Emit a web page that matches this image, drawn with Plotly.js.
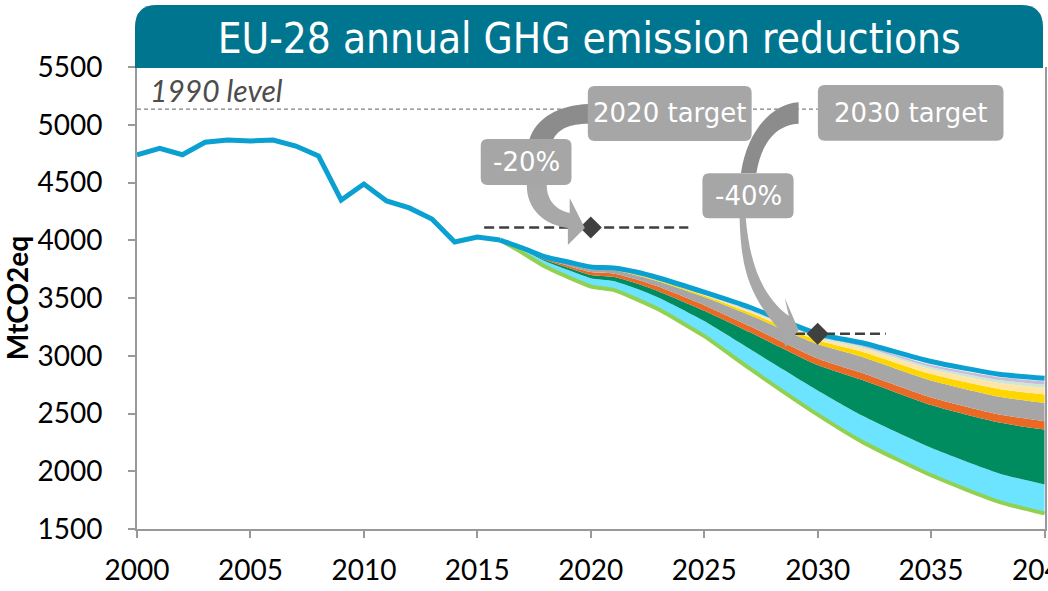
<!DOCTYPE html>
<html>
<head>
<meta charset="utf-8">
<script src="https://cdn.plot.ly/plotly-3.0.1.min.js"></script>
<style>
  html, body { margin: 0; padding: 0; background: #fff; }
  #chart { width: 1048px; height: 591px; }
</style>
</head>
<body>
<div id="chart"></div>
<script>
// historic emissions (MtCO2eq)
const histYears = [2000, 2001, 2002, 2003, 2004, 2005, 2006, 2007, 2008, 2009, 2010, 2011, 2012, 2013, 2014, 2015, 2016];
const histMt = [4740, 4795, 4740, 4848, 4868, 4860, 4868, 4816, 4730, 4348, 4487, 4340, 4280, 4184, 3985, 4028, 4002];

// projections
const projYears = [2016, 2017, 2018, 2019, 2020, 2021, 2022, 2023, 2025, 2027, 2030, 2032, 2035, 2038, 2040];
const baselineMt = [4002, 3933, 3855, 3812, 3768, 3760, 3725, 3673, 3550, 3420, 3190, 3110, 2950, 2840, 2805];
const pathwayMt = [4002, 3890, 3770, 3680, 3600, 3570, 3490, 3400, 3170, 2890, 2490, 2250, 1965, 1735, 1635];

// reduction wedges, stacked on top of the pathway (bottom to top)
const wedgeCyan = [0, 28, 48, 62, 72, 78, 92, 102, 130, 170, 210, 228, 238, 246, 250];
const wedgeDarkGreen = [0, 5, 10, 20, 28, 35, 45, 55, 90, 145, 220, 310, 370, 440, 476];
const wedgeOrange = [0, 3, 10, 18, 25, 30, 35, 40, 48, 52, 56, 60, 65, 70, 72];
const wedgeGrey = [0, 3, 8, 15, 22, 27, 35, 45, 70, 95, 125, 140, 148, 155, 159];
const wedgeYellow = [0, 0, 2, 3, 4, 5, 7, 9, 14, 22, 33, 45, 55, 66, 72];
const wedgeTan = [0, 0, 1, 2, 3, 3, 4, 5, 6, 12, 20, 32, 42, 52, 58];
const wedgeMint = [0, 0, 1, 1, 2, 2, 3, 3, 3, 6, 10, 14, 20, 26, 29];
const wedgeLavender = [0, 0, 1, 1, 2, 2, 2, 3, 3, 5, 8, 12, 18, 24, 28];

// reference level and targets
const level1990 = 5135;
const targetYears = [2020, 2030];
const targetMt = [4110, 3190];
const targetLineFrom = [2015.3, 2029.0];
const targetLineTo = [2024.3, 2033.0];

const xTicks = [2000, 2005, 2010, 2015, 2020, 2025, 2030, 2035, 2040];

const wedges = [
    [wedgeCyan, '#6ce3ff'],
    [wedgeDarkGreen, '#008c5e'],
    [wedgeOrange, '#ea6a25'],
    [wedgeGrey, '#a6a6a6'],
    [wedgeYellow, '#ffd700'],
    [wedgeTan, '#ffe6a6'],
    [wedgeMint, '#cde8d2'],
    [wedgeLavender, '#c9bcdb'],
];

const smooth = {shape: 'spline', smoothing: 0.6};

const traces = [];

traces.push({
    x: projYears, y: pathwayMt, type: 'scatter', mode: 'lines',
    stackgroup: 'cuts', fillcolor: 'rgba(0,0,0,0)',
    line: Object.assign({width: 0, color: 'rgba(0,0,0,0)'}, smooth),
    hoverinfo: 'skip',
});

wedges.forEach(([vals, colour]) => {
    traces.push({
        x: projYears, y: vals, type: 'scatter', mode: 'lines',
        stackgroup: 'cuts', fillcolor: colour,
        line: Object.assign({width: 0, color: colour}, smooth),
        hoverinfo: 'skip',
    });
});

traces.push({
    x: projYears, y: pathwayMt, type: 'scatter', mode: 'lines',
    line: Object.assign({width: 4, color: '#92d050'}, smooth),
});

traces.push({
    x: projYears, y: baselineMt, type: 'scatter', mode: 'lines',
    line: Object.assign({width: 5, color: '#0aa0d2'}, smooth),
});

traces.push({
    x: histYears, y: histMt, type: 'scatter', mode: 'lines',
    line: {width: 5, color: '#0aa0d2'},
});

targetYears.forEach((yr, i) => {
    traces.push({
        x: [targetLineFrom[i], targetLineTo[i]], y: [targetMt[i], targetMt[i]],
        type: 'scatter', mode: 'lines',
        line: {width: 2.5, color: '#404040', dash: '10px,5px'},
    });
});

traces.push({
    x: targetYears, y: targetMt, type: 'scatter', mode: 'markers',
    marker: {symbol: 'diamond', size: 17, color: '#404040'},
});

// label boxes for the targets
const labelBoxes = [
    {text: '2020 target', x0: 2019.87, x1: 2027.09, y0: 4860, y1: 5335},
    {text: '-20%', x0: 2015.15, x1: 2019.15, y0: 4478, y1: 4877},
    {text: '2030 target', x0: 2030.01, x1: 2038.19, y0: 4862, y1: 5344},
    {text: '-40%', x0: 2024.92, x1: 2028.94, y0: 4190, y1: 4580},
];

function roundedBox(b) {
    const rx = 0.3, ry = 60;
    return `M ${b.x0 + rx},${b.y0} L ${b.x1 - rx},${b.y0} Q ${b.x1},${b.y0} ${b.x1},${b.y0 + ry} ` +
        `L ${b.x1},${b.y1 - ry} Q ${b.x1},${b.y1} ${b.x1 - rx},${b.y1} L ${b.x0 + rx},${b.y1} ` +
        `Q ${b.x0},${b.y1} ${b.x0},${b.y1 - ry} L ${b.x0},${b.y0 + ry} Q ${b.x0},${b.y0} ${b.x0 + rx},${b.y0} Z`;
}

const shapes = [
    // title banner
    {
        type: 'path', xref: 'paper', yref: 'paper', layer: 'above',
        path: 'M -0.0022,0.9978 L -0.0022,1.0866 Q -0.0022,1.1342 0.022,1.1342 ' +
            'L 0.9736,1.1342 Q 0.9978,1.1342 0.9978,1.0866 L 0.9978,0.9978 Z',
        fillcolor: '#00758f', line: {width: 0},
    },
    // 1990 level
    {
        type: 'line', xref: 'x', yref: 'y', layer: 'above',
        x0: 2000, x1: 2030, y0: level1990, y1: level1990,
        line: {color: '#808080', width: 1.2, dash: '4px,3px'},
    },
    // curved arrows
    {
        type: 'path', layer: 'above', fillcolor: '#8c8c8c', line: {width: 0},
        path: 'M 2019.9,5180 C 2018.6,5172 2017.6,5060 2017.3,4877 L 2018.35,4877 ' +
            'C 2018.6,4960 2019.0,5006 2019.9,5008 Z',
    },
    {
        type: 'path', layer: 'above', fillcolor: '#a8a8a8', line: {width: 0},
        path: 'M 2017.18,4478 C 2017.18,4262 2017.97,4132 2018.99,4106 L 2018.99,3959 ' +
            'L 2019.74,4106 L 2019.07,4366 L 2019.07,4236 C 2018.46,4262 2018.06,4348 2018.06,4478 Z',
    },
    {
        type: 'path', layer: 'above', fillcolor: '#8c8c8c', line: {width: 0},
        path: 'M 2029.16,5195 C 2028.0,5180 2026.9,4955 2026.62,4582 L 2027.3,4582 ' +
            'C 2027.5,4825 2028.11,4998 2029.16,5008 Z',
    },
    {
        type: 'path', layer: 'above', fillcolor: '#a8a8a8', line: {width: 0},
        path: 'M 2026.56,4193 C 2026.61,3786 2026.92,3526 2028.33,3223 L 2028.59,3076 ' +
            'L 2029.16,3223 L 2028.55,3500 L 2028.73,3344 C 2027.5,3526 2027.0,3812 2026.83,4193 Z',
    },
];

labelBoxes.forEach(b => {
    shapes.push({
        type: 'path', layer: 'above', path: roundedBox(b),
        fillcolor: '#a6a6a6', line: {width: 0},
    });
});

const annotations = labelBoxes.map(b => ({
    x: (b.x0 + b.x1) / 2, y: (b.y0 + b.y1) / 2,
    text: b.text, showarrow: false,
    xanchor: 'center', yanchor: 'middle',
    font: {family: 'DejaVu Sans', size: 26, color: '#ffffff'},
}));

annotations.push({
    x: 2000.5, y: 5300, xanchor: 'left', yanchor: 'middle',
    text: '1990 level', showarrow: false,
    font: {family: 'Lato', size: 30, color: '#4d4d4d', style: 'italic'},
});

const tickFont = {family: 'Lato', size: 28, color: '#000000'};

const layout = {
    width: 1048,
    height: 591,
    margin: {l: 137, r: 3, t: 67, b: 62},
    paper_bgcolor: '#ffffff',
    plot_bgcolor: '#ffffff',
    showlegend: false,
    title: {
        text: 'EU-28 annual GHG emission reductions',
        font: {family: 'DejaVu Sans Condensed', size: 42, color: '#ffffff'},
        xref: 'paper', x: 0.498, xanchor: 'center',
        yref: 'container', y: 0.935, yanchor: 'middle',
    },
    xaxis: {
        range: [2000, 2040.02],
        tickmode: 'array', tickvals: xTicks, ticktext: xTicks.map(String),
        ticks: 'outside', ticklen: 7, tickwidth: 2, tickcolor: '#999999',
        showline: true, linecolor: '#999999', linewidth: 2,
        showgrid: false, zeroline: false,
        tickfont: tickFont,
        ticklabeloverflow: 'allow',
        ticklabelstandoff: 8,
    },
    yaxis: {
        range: [1500, 5500],
        tick0: 1500, dtick: 500,
        ticks: 'outside', ticklen: 7, tickwidth: 2, tickcolor: '#999999',
        showline: true, linecolor: '#999999', linewidth: 2, mirror: true,
        showgrid: false, zeroline: false,
        tickfont: tickFont,
        ticklabelstandoff: 20,
        title: {
            text: 'MtCO2eq',
            font: {family: 'Lato', size: 28, color: '#000000', weight: 'bold'},
            standoff: 8,
        },
    },
    shapes: shapes,
    annotations: annotations,
};

Plotly.newPlot('chart', traces, layout, {displayModeBar: false, staticPlot: true});
</script>
</body>
</html>
